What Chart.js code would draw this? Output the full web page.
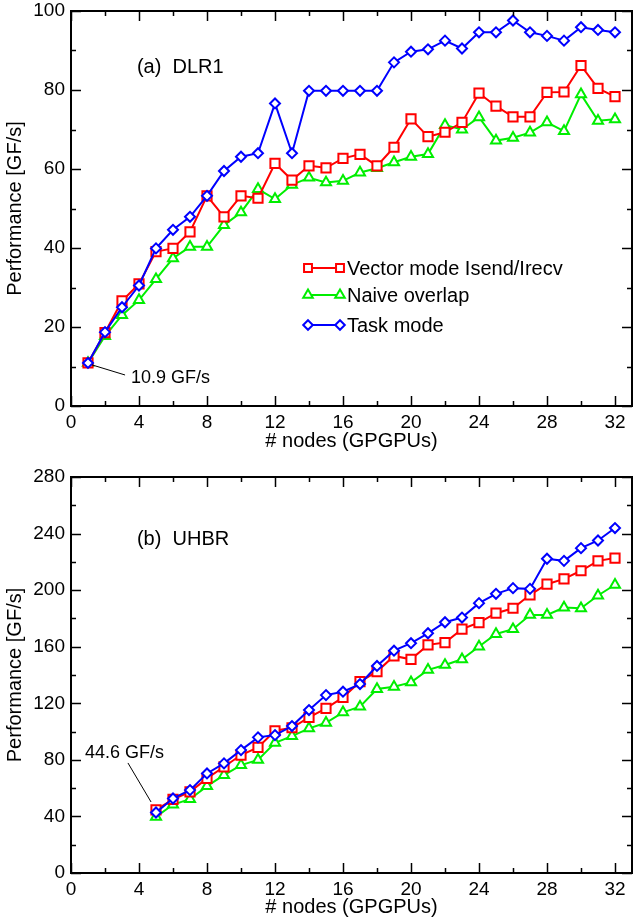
<!DOCTYPE html>
<html><head><meta charset="utf-8">
<script src="https://cdn.jsdelivr.net/npm/chart.js@4/dist/chart.umd.min.js"></script>
<style>html,body{margin:0;padding:0;background:#fff;}.w{position:absolute;left:0;}</style>
</head><body>
<div class="w" style="top:0;width:634px;height:460px"><canvas id="c1" width="634" height="460"></canvas></div>
<div class="w" style="top:460px;width:634px;height:459px"><canvas id="c2" width="634" height="459"></canvas></div>
<script>
// ---- data ----
const seriesNames = ['Vector mode Isend/Irecv', 'Naive overlap', 'Task mode'];
const topNodes = [1,2,3,4,5,6,7,8,9,10,11,12,13,14,15,16,17,18,19,20,21,22,23,24,25,26,27,28,29,30,31,32];
const topVector = [10.9,18.6,26.6,30.9,39.1,39.9,44.1,53.2,47.9,53.2,52.6,61.4,57.2,60.8,60.3,62.7,63.7,60.8,65.5,72.7,68.2,69.3,71.8,79.2,75.9,73.2,73.2,79.4,79.5,86.2,80.4,78.3];
const topNaive = [10.9,17.7,23.0,26.8,32.1,37.4,40.3,40.3,45.8,49.0,54.9,52.4,56.0,57.8,56.6,57.0,59.1,60.2,61.7,63.1,63.8,71.1,70.0,73.1,67.2,67.9,69.2,71.8,69.6,78.9,72.2,72.6];
const topTask = [10.9,18.7,25.0,30.5,39.9,44.6,47.9,53.2,59.5,63.1,64.0,76.6,64.0,79.8,79.8,79.8,79.8,79.8,87.0,89.7,90.3,92.5,90.5,94.6,94.6,97.6,94.6,93.7,92.5,95.9,95.2,94.6];
const bottomNodes = [5,6,7,8,9,10,11,12,13,14,15,16,17,18,19,20,21,22,23,24,25,26,27,28,29,30,31,32];
const bottomVector = [44.6,52.0,57.4,66.9,75.1,83.4,88.8,100.6,102.7,110.0,116.4,124.2,135.3,142.4,153.5,151.1,161.3,162.9,172.4,177.1,183.7,187.2,196.7,204.2,208.0,213.7,220.7,222.7];
const bottomNaive = [39.7,48.4,52.2,61.4,69.2,76.3,80.0,92.1,96.8,102.3,106.2,113.6,117.6,130.1,131.7,134.8,143.6,147.1,151.1,160.1,169.0,172.4,182.5,182.5,187.7,187.2,196.2,203.8];
const bottomTask = [42.8,52.7,58.6,70.4,77.5,86.9,95.9,97.5,103.9,115.2,125.8,128.2,133.6,146.4,157.2,162.5,169.5,177.3,180.6,190.8,197.4,201.4,200.9,222.2,220.7,229.7,235.1,243.9];
const xTicks = [0,4,8,12,16,20,24,28,32];
const topYTicks = [0,20,40,60,80,100];
const bottomYTicks = [0,40,80,120,160,200,240,280];
const xTitle = '# nodes (GPGPUs)';
const yTitle = 'Performance [GF/s]';

const FONT = 'Liberation Sans, Arial, Helvetica, sans-serif';
const RED = '#ff0000', GREEN = '#00ee00', BLUE = '#0000ff';

function pts(xs, ys){ return xs.map((x,i)=>({x:x, y:ys[i]})); }

function drawMarker(ctx, style, x, y, r){
  ctx.beginPath();
  if(style==='rect'){ const s=r*0.72; ctx.rect(x-s,y-s,2*s,2*s); }
  else if(style==='triangle'){ ctx.moveTo(x,y-r); ctx.lineTo(x+r*0.87,y+r*0.5); ctx.lineTo(x-r*0.87,y+r*0.5); ctx.closePath(); }
  else { ctx.moveTo(x,y-r); ctx.lineTo(x+r,y); ctx.lineTo(x,y+r); ctx.lineTo(x-r,y); ctx.closePath(); }
  ctx.fillStyle='#fff'; ctx.fill(); ctx.stroke();
}

const framePlugin = {
  id:'frame',
  afterDraw(chart, args, opts){
    const {ctx, chartArea:a, scales:{x,y}} = chart;
    ctx.save();
    ctx.strokeStyle='#000';
    ctx.lineWidth=1.5;
    ctx.beginPath();
    for(let v=opts.xMin; v<=opts.xMax+1e-9; v+=opts.xStep/2){
      const major = Math.abs(v/opts.xStep - Math.round(v/opts.xStep))<1e-6;
      const L = major?10:5; const px = Math.round(x.getPixelForValue(v))+0.5;
      ctx.moveTo(px,a.bottom); ctx.lineTo(px,a.bottom-L);
      ctx.moveTo(px,a.top); ctx.lineTo(px,a.top+L);
    }
    for(let v=opts.yMin; v<=opts.yMax+1e-9; v+=opts.yStep/2){
      const major = Math.abs(v/opts.yStep - Math.round(v/opts.yStep))<1e-6;
      const L = major?10:5; const py = Math.round(y.getPixelForValue(v))+0.5;
      ctx.moveTo(a.left,py); ctx.lineTo(a.left+L,py);
      ctx.moveTo(a.right,py); ctx.lineTo(a.right-L,py);
    }
    ctx.stroke();
    ctx.lineWidth=2;
    ctx.strokeRect(a.left,a.top,a.right-a.left,a.bottom-a.top);
    ctx.restore();
  }
};

const notesPlugin = {
  id:'notes',
  afterDraw(chart, args, opts){
    const {ctx, scales:{x,y}} = chart;
    ctx.save();
    (opts.items||[]).forEach(it=>{
      if(it.type==='text'){
        ctx.font = it.size+'px '+FONT; ctx.fillStyle='#000';
        ctx.textAlign='left'; ctx.textBaseline='middle';
        ctx.fillText(it.text, x.getPixelForValue(it.x), y.getPixelForValue(it.y));
      } else if(it.type==='line'){
        ctx.strokeStyle='#000'; ctx.lineWidth=1;
        ctx.beginPath();
        ctx.moveTo(x.getPixelForValue(it.x1), y.getPixelForValue(it.y1));
        ctx.lineTo(x.getPixelForValue(it.x2), y.getPixelForValue(it.y2));
        ctx.stroke();
      }
    });
    if(opts.legend){
      const L = opts.legend;
      const styles=['rect','triangle','rectRot'], cols=[RED,GREEN,BLUE], rs=[5.5,5.5,4.8];
      L.rows.forEach((ry,i)=>{
        ctx.strokeStyle=cols[i]; ctx.lineWidth=2;
        ctx.beginPath(); ctx.moveTo(L.x1,ry); ctx.lineTo(L.x2,ry); ctx.stroke();
        drawMarker(ctx, styles[i], L.x1, ry, rs[i]);
        drawMarker(ctx, styles[i], L.x2, ry, rs[i]);
        ctx.font='20px '+FONT; ctx.fillStyle='#000'; ctx.textAlign='left'; ctx.textBaseline='middle';
        ctx.fillText(seriesNames[i], L.tx, ry+1);
      });
    }
    ctx.restore();
  }
};

function ds(label, data, color, style, r, order){
  return {label, data, borderColor:color, backgroundColor:'#fff', borderWidth:2,
    pointStyle:style, pointRadius:r, pointBorderWidth:2, pointBackgroundColor:'#fff', pointBorderColor:color,
    tension:0, order, fill:false, clip:12};
}

function makeChart(id, cfg){
  return new Chart(document.getElementById(id), {
    type:'line',
    data:{datasets:[
      ds(seriesNames[2], cfg.task, BLUE, 'rectRot', 5, 1),
      ds(seriesNames[0], cfg.vector, RED, 'rect', 6.5, 2),
      ds(seriesNames[1], cfg.naive, GREEN, 'triangle', 5.8, 3)
    ]},
    options:{
      responsive:false, animation:false, devicePixelRatio:1,
      layout:{autoPadding:false, padding:{top:cfg.padTop, right:2, left:0, bottom:0}},
      plugins:{legend:{display:false}, tooltip:{enabled:false},
        frame:{xMin:0,xMax:32,xStep:4,yMin:cfg.yMin,yMax:cfg.yMax,yStep:cfg.yStep},
        notes:{items:cfg.notes, legend:cfg.legend}},
      scales:{
        x:{type:'linear', min:0, max:33,
          grid:{display:false, drawTicks:false}, border:{display:false},
          ticks:{stepSize:4, includeBounds:false, padding:5, color:'#000', font:{family:FONT,size:19}, maxRotation:0, autoSkip:false,
            callback:(v)=> xTicks.includes(v)? String(v):''},
          title:{display:true, text:xTitle, color:'#000', font:{family:FONT,size:20}, padding:{top:0,bottom:cfg.xTitlePad}},
          afterFit:(s)=>{s.height=cfg.xH; s.paddingLeft=0; s.paddingRight=0;}
        },
        y:{type:'linear', min:cfg.yMin, max:cfg.yMax,
          grid:{display:false, drawTicks:false}, border:{display:false},
          ticks:{stepSize:cfg.yStep, padding:6, color:'#000', font:{family:FONT,size:19},
            callback:(v)=> cfg.yTicks.includes(v)? String(v):''},
          title:{display:true, text:yTitle, color:'#000', font:{family:FONT,size:20}, padding:{top:3,bottom:0}},
          afterFit:(s)=>{s.width=71; s.paddingTop=0; s.paddingBottom=0;}
        }
      }
    },
    plugins:[framePlugin, notesPlugin]
  });
}

makeChart('c1', {
  vector:pts(topNodes, topVector), naive:pts(topNodes, topNaive), task:pts(topNodes, topTask),
  yMin:0, yMax:100, yStep:20, yTicks:topYTicks, padTop:11, xH:54, xTitlePad:7,
  notes:[
    {type:'text', text:'(a)  DLR1', x:3.88, y:85.8, size:20},
    {type:'text', text:'10.9 GF/s', x:3.53, y:7.1, size:18},
    {type:'line', x1:1.24, y1:10.4, x2:3.18, y2:7.85}
  ],
  legend:{x1:308, x2:340, tx:347, rows:[268,295,325]}
});

makeChart('c2', {
  vector:pts(bottomNodes, bottomVector), naive:pts(bottomNodes, bottomNaive), task:pts(bottomNodes, bottomTask),
  yMin:0, yMax:280, yStep:40, yTicks:bottomYTicks, padTop:17, xH:46, xTitlePad:0,
  notes:[
    {type:'text', text:'(b)  UHBR', x:3.88, y:235.5, size:20},
    {type:'text', text:'44.6 GF/s', x:0.82, y:84.9, size:18},
    {type:'line', x1:3.35, y1:77.8, x2:4.71, y2:50.2}
  ],
  legend:null
});
</script>
</body></html>
